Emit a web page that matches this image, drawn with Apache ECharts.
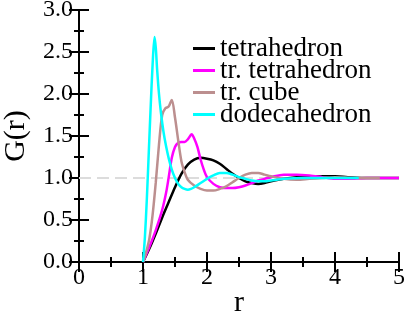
<!DOCTYPE html>
<html><head><meta charset="utf-8">
<script src="https://cdn.jsdelivr.net/npm/echarts@6/dist/echarts.min.js"></script>
<style>html,body{margin:0;padding:0;background:#fff}#c{width:407px;height:312px}</style>
</head><body><div id="c"></div>
<script>
var seriesNames = ['tetrahedron', 'tr. tetrahedron', 'tr. cube', 'dodecahedron'];
var xTicks = [0, 1, 2, 3, 4, 5];
var yTicks = [0.0, 0.5, 1.0, 1.5, 2.0, 2.5, 3.0];
var referenceLevel = 1.0;

var tetrahedron = [
  [1.0,0],[1.1,0.16],[1.2,0.34],[1.3,0.53],[1.4,0.71],[1.5,0.89],[1.6,1.05],[1.7,1.16],
  [1.8,1.22],[1.9,1.24],[2.0,1.23],[2.1,1.21],[2.2,1.17],[2.3,1.11],[2.4,1.05],[2.5,1.0],
  [2.6,0.96],[2.7,0.94],[2.8,0.93],[2.9,0.94],[3.0,0.96],[3.2,0.99],[3.4,1.01],[3.6,1.02],
  [3.8,1.02],[4.0,1.02],[4.2,1.01],[4.5,1.0],[5.0,1.0]
];
var trTetrahedron = [
  [1.0,0],[1.1,0.18],[1.2,0.38],[1.3,0.62],[1.36,0.82],[1.4,1.0],[1.45,1.24],[1.5,1.37],
  [1.55,1.42],[1.6,1.43],[1.65,1.43],[1.7,1.46],[1.76,1.52],[1.8,1.47],[1.85,1.37],[1.9,1.22],
  [1.95,1.1],[2.0,1.01],[2.1,0.93],[2.2,0.89],[2.3,0.88],[2.4,0.88],[2.5,0.89],[2.6,0.91],
  [2.7,0.94],[2.8,0.97],[2.9,0.99],[3.0,1.01],[3.2,1.04],[3.4,1.04],[3.6,1.03],[3.8,1.01],
  [4.0,0.99],[4.2,0.99],[4.5,1.0],[5.0,1.0]
];
var trCube = [
  [1.0,0],[1.05,0.12],[1.1,0.28],[1.15,0.56],[1.2,0.95],[1.25,1.4],[1.3,1.75],[1.35,1.83],
  [1.4,1.85],[1.45,1.93],[1.5,1.72],[1.55,1.45],[1.6,1.2],[1.65,1.07],[1.7,0.98],[1.8,0.91],
  [1.9,0.87],[2.0,0.85],[2.1,0.85],[2.2,0.87],[2.3,0.9],[2.4,0.95],[2.5,1.0],[2.6,1.04],
  [2.7,1.06],[2.8,1.06],[2.9,1.04],[3.0,1.02],[3.2,0.99],[3.4,0.98],[3.6,0.99],[3.8,1.0],
  [4.0,1.01],[4.3,1.0],[4.7,1.0]
];
var dodecahedron = [
  [1.0,0],[1.03,0.3],[1.06,0.75],[1.09,1.3],[1.12,1.85],[1.15,2.35],[1.18,2.68],[1.2,2.55],
  [1.22,2.3],[1.25,2.0],[1.28,1.78],[1.32,1.55],[1.36,1.38],[1.4,1.24],[1.45,1.1],[1.5,1.0],
  [1.55,0.93],[1.6,0.89],[1.65,0.87],[1.7,0.86],[1.75,0.87],[1.8,0.89],[1.9,0.94],[2.0,0.99],
  [2.1,1.03],[2.2,1.06],[2.3,1.06],[2.4,1.04],[2.5,1.01],[2.6,0.99],[2.7,0.97],[2.8,0.96],
  [2.9,0.96],[3.0,0.97],[3.2,0.99],[3.5,1.0],[4.0,1.0],[4.37,1.0]
];
var seriesData = [tetrahedron, trTetrahedron, trCube, dodecahedron];
var colors = ['#000000', '#ff00ff', '#bc8f8f', '#00ffff'];

var font = 'Liberation Serif';
var chart = echarts.init(document.getElementById('c'), null, {renderer: 'canvas'});

var series = seriesData.map(function (d, i) {
  var s = {
    name: seriesNames[i], type: 'line', data: d, showSymbol: false, smooth: 0.3,
    lineStyle: {color: colors[i], width: 2.5}, itemStyle: {color: colors[i]}, z: 3 + i,
    xAxisIndex: 0, yAxisIndex: 0
  };
  if (i === 0) {
    s.markLine = {
      silent: true, symbol: 'none', z: 1, label: {show: false},
      lineStyle: {color: '#dcdcdc', type: [12, 6], width: 2},
      data: [{yAxis: referenceLevel}]
    };
  }
  return s;
});

function axisCommon() {
  return {
    axisLine: {lineStyle: {color: '#000', width: 2}},
    axisTick: {inside: true, length: 10, lineStyle: {color: '#000', width: 2}},
    minorTick: {show: true, splitNumber: 2, length: 5, lineStyle: {color: '#000', width: 2}},
    splitLine: {show: false}
  };
}

var xb = Object.assign(axisCommon(), {
  type: 'value', min: xTicks[0], max: xTicks[xTicks.length - 1], interval: 1, position: 'bottom',
  name: 'r', nameLocation: 'middle', nameGap: 26, nameMoveOverlap: false,
  nameTextStyle: {fontFamily: font, fontSize: 30, color: '#000'},
  axisLabel: {fontFamily: font, fontSize: 24, color: '#000', margin: 4}
});
var xt = Object.assign(axisCommon(), {
  type: 'value', min: xTicks[0], max: xTicks[xTicks.length - 1], interval: 1, position: 'top',
  axisLabel: {show: false}
});
var yl = Object.assign(axisCommon(), {
  type: 'value', min: yTicks[0], max: yTicks[yTicks.length - 1], interval: 0.5, position: 'left',
  name: 'G(r)', nameLocation: 'middle', nameGap: 48, nameMoveOverlap: false,
  nameTextStyle: {fontFamily: font, fontSize: 30, color: '#000'},
  axisLabel: {fontFamily: font, fontSize: 24, color: '#000', margin: 6,
    formatter: function (v) { return v.toFixed(1); }}
});
var yr = Object.assign(axisCommon(), {
  type: 'value', min: yTicks[0], max: yTicks[yTicks.length - 1], interval: 0.5, position: 'right',
  axisLabel: {show: false}
});

var legendTextStyle = {fontFamily: font, fontSize: 27, color: '#000'};

chart.setOption({
  animation: false,
  backgroundColor: '#fff',
  textStyle: {fontFamily: font},
  grid: {left: 79, right: 8, top: 10, bottom: 50, containLabel: false, outerBoundsMode: 'none'},
  xAxis: [xb, xt],
  yAxis: [yl, yr],
  legend: {
    orient: 'vertical', left: 193, top: 35, itemGap: -5, padding: 0,
    icon: 'rect', itemWidth: 22, itemHeight: 3,
    textStyle: legendTextStyle,
    data: seriesNames.map(function (n) { return {name: n, textStyle: legendTextStyle}; })
  },
  series: series
});
</script></body></html>
